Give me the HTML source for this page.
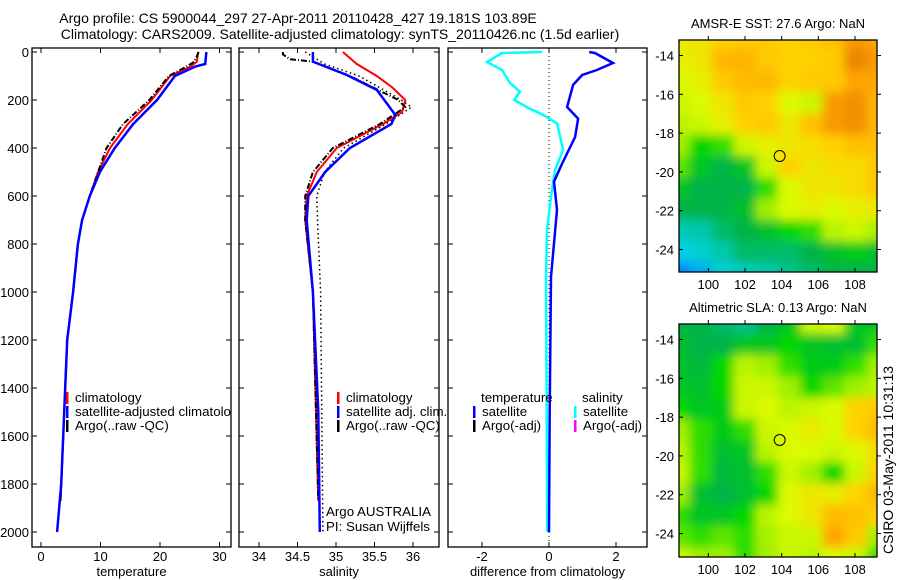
<!DOCTYPE html>
<html><head><meta charset="utf-8"><style>
body{margin:0;background:#fff}
svg{display:block;font-family:"Liberation Sans",sans-serif;font-size:14px}
.tk{font-size:13px}
.lg{font-size:13.3px}
</style></head><body>
<svg id="fig" width="900" height="580" viewBox="0 0 900 580">
<text x="298" y="23" text-anchor="middle">Argo profile: CS 5900044_297 27-Apr-2011 20110428_427 19.181S 103.89E</text>
<text x="340" y="39" text-anchor="middle">Climatology: CARS2009. Satellite-adjusted climatology: synTS_20110426.nc (1.5d earlier)</text>
<text transform="translate(893,460) rotate(-90)" text-anchor="middle">CSIRO 03-May-2011 10:31:13</text>
<defs>
<filter id="bl" x="0" y="0" width="1" height="1"><feGaussianBlur stdDeviation="5"/></filter>
<clipPath id="c1"><rect x="32" y="48" width="199" height="499"/></clipPath>
<clipPath id="c2"><rect x="239" y="48" width="200" height="499"/></clipPath>
<clipPath id="c3"><rect x="448" y="48" width="199" height="499"/></clipPath>
<clipPath id="m1"><rect x="679" y="40" width="198" height="232"/></clipPath>
<clipPath id="m2"><rect x="679" y="324" width="198" height="233"/></clipPath>
</defs>
<g id="g"></g>
</svg>
<script>
// ---- profile data ----
const tDepthBlue=[0,50,60,100,200,300,400,500,600,700,800,1000,1200,1500,1800,2000];
const tBlue=[27.8,27.6,26.0,22.5,19.5,15.5,12.4,9.9,8.2,6.9,6.2,5.4,4.4,3.9,3.4,2.7];
const tDepthRed=[0,40,60,100,200,300,400,500,600,700,800,1000,1200,1500,1870];
const tRed=[26.4,26.2,25.2,21.7,18.6,14.6,11.6,9.6,8.2,6.9,6.2,5.4,4.4,3.9,3.3];
const tDepthArgo=[0,40,60,100,200,300,400,500,600,700,800,1000,1200,1500,1870];
const tArgo=[26.5,25.8,24.5,21.5,18.2,13.8,11.0,9.6,8.2,6.9,6.2,5.4,4.4,3.9,3.3];
const sDepthBlue=[0,40,96,158,262,300,400,500,600,700,1000,1500,2000];
const sBlue=[34.70,34.70,35.14,35.53,35.77,35.72,35.18,34.86,34.64,34.62,34.70,34.77,34.79];
const sDepthRed=[0,50,100,150,200,250,300,400,500,600,700,1000,1500,1870];
const sRed=[35.09,35.27,35.53,35.74,35.90,35.86,35.61,35.01,34.75,34.62,34.60,34.70,34.74,34.77];
const sDepthArgo=[0,10,30,40,100,200,230,300,400,500,600,700,1000,1870];
const sArgo=[34.31,34.31,34.40,34.70,35.18,35.81,35.90,35.57,34.96,34.70,34.60,34.60,34.70,34.77];
const sDepthDot=[0,50,100,200,230,300,400,500,600,700,1000,2000];
const sDot=[34.60,34.85,35.30,35.85,35.98,35.65,35.10,34.85,34.75,34.76,34.80,34.83];
const dDepthCyan=[0,4,42,75,130,165,200,233,262,297,408,492,603,742,937,1500,2000];
const dCyan=[-0.2,-1.4,-1.85,-1.4,-1.16,-0.87,-1.04,-0.62,-0.18,0.24,0.42,0.18,0.06,-0.06,-0.09,-0.07,-0.05];
const dDepthBlue=[0,4,46,75,96,137,229,278,354,465,540,658,937,1500,2000];
const dBlue=[1.2,1.37,1.91,1.43,0.99,0.72,0.54,0.87,0.78,0.39,0.15,0.24,0.06,0.02,0.0];
const depthTicks=[0,200,400,600,800,1000,1200,1400,1600,1800,2000];
const tTicks=[0,10,20,30];
const sTicks=[34,34.5,35,35.5,36];
const dTicks=[-2,0,2];
// ---- map data (value 0..1 on jet-like scale), rows lat -13.7..-24.7, cols lon 98.9..108.9 ----
const sstGrid=[
[0.65,0.66,0.70,0.72,0.72,0.70,0.72,0.74,0.82,0.80],
[0.64,0.66,0.76,0.77,0.72,0.70,0.70,0.72,0.86,0.82],
[0.62,0.64,0.72,0.75,0.76,0.70,0.72,0.72,0.80,0.80],
[0.60,0.62,0.66,0.72,0.70,0.62,0.60,0.82,0.84,0.76],
[0.58,0.60,0.64,0.70,0.72,0.66,0.74,0.82,0.84,0.76],
[0.55,0.48,0.50,0.60,0.64,0.66,0.68,0.70,0.74,0.74],
[0.52,0.45,0.42,0.45,0.60,0.70,0.66,0.68,0.68,0.72],
[0.45,0.42,0.42,0.42,0.50,0.62,0.66,0.66,0.68,0.72],
[0.42,0.42,0.42,0.44,0.55,0.62,0.64,0.62,0.64,0.66],
[0.35,0.36,0.40,0.42,0.44,0.48,0.50,0.58,0.60,0.56],
[0.30,0.32,0.36,0.40,0.40,0.40,0.42,0.44,0.46,0.44],
[0.22,0.26,0.32,0.34,0.36,0.38,0.40,0.42,0.42,0.42]];
const slaGrid=[
[0.42,0.42,0.40,0.38,0.42,0.45,0.60,0.62,0.45,0.45],
[0.44,0.42,0.42,0.45,0.45,0.48,0.45,0.44,0.44,0.50],
[0.44,0.43,0.48,0.58,0.55,0.50,0.46,0.46,0.50,0.55],
[0.45,0.44,0.48,0.60,0.60,0.55,0.48,0.52,0.55,0.58],
[0.48,0.45,0.46,0.60,0.62,0.58,0.60,0.62,0.70,0.72],
[0.55,0.50,0.46,0.50,0.60,0.62,0.65,0.62,0.70,0.75],
[0.58,0.50,0.44,0.45,0.58,0.62,0.62,0.60,0.62,0.68],
[0.60,0.50,0.43,0.44,0.50,0.60,0.55,0.48,0.60,0.70],
[0.55,0.44,0.42,0.44,0.48,0.62,0.66,0.65,0.70,0.76],
[0.50,0.45,0.45,0.48,0.58,0.62,0.66,0.75,0.74,0.70],
[0.52,0.50,0.52,0.50,0.56,0.60,0.60,0.80,0.72,0.55],
[0.60,0.55,0.55,0.50,0.55,0.60,0.58,0.62,0.60,0.50]];
const latTicks=[-14,-16,-18,-20,-22,-24];
const lonTicks=[100,102,104,106,108];
const argoLon=103.89, argoLat=-19.18;

const NS='http://www.w3.org/2000/svg';
const G=document.getElementById('g');
function mk(tag,at,parent){const e=document.createElementNS(NS,tag);for(const k in at)e.setAttribute(k,at[k]);(parent||G).appendChild(e);return e;}
const yD=d=>52+d*0.24;
const xT=v=>41+(v)*5.95;
const xS=v=>259+(v-34)*77;
const xDf=v=>549+v*33.5;

function panel(x0,x1,xf,ticks,fmt,title,name,showY){
  const r=mk('rect',{x:x0,y:48,width:x1-x0,height:499,fill:'none',stroke:'#000','stroke-width':1.3});
  
  
  depthTicks.forEach(d=>{
    mk('line',{x1:x0,x2:x0+5,y1:yD(d),y2:yD(d),stroke:'#000'});
    mk('line',{x1:x1,x2:x1-5,y1:yD(d),y2:yD(d),stroke:'#000'});
    if(showY){const t=mk('text',{x:x0-3,y:yD(d)+5,'text-anchor':'end','class':'tk'});t.textContent=d;
      
      }
  });
  ticks.forEach(v=>{
    const x=xf(v);
    mk('line',{x1:x,x2:x,y1:48,y2:53,stroke:'#000'});
    mk('line',{x1:x,x2:x,y1:547,y2:542,stroke:'#000'});
    const t=mk('text',{x:x,y:561,'text-anchor':'middle','class':'tk'});t.textContent=fmt(v);
    
    
  });
  const tt=mk('text',{x:(x0+x1)/2,y:576,'text-anchor':'middle','class':'tk'});tt.textContent=title;
  
  
}
function line(depths,vals,xf,color,w,dash,clip,name){
  const p=depths.map((d,i)=>xf(vals[i]).toFixed(1)+','+yD(d).toFixed(1)).join(' ');
  const a={points:p,fill:'none',stroke:color,'stroke-width':w,'clip-path':'url(#'+clip+')'};
  if(dash)a['stroke-dasharray']=dash;
  const e=mk('polyline',a);
  
  
}
panel(32,231,xT,tTicks,v=>v,'temperature','temperature-panel',true);
panel(239,439,xS,sTicks,v=>v,'salinity','salinity-panel',false);
panel(448,647,xDf,dTicks,v=>v,'difference from climatology','difference-panel',false);

line(tDepthRed,tRed,xT,'#f00',2,null,'c1','temp-climatology-line');
line(tDepthArgo,tArgo,xT,'#000',2,'6,2,1,2','c1','temp-argo-line');
line(tDepthBlue,tBlue,xT,'#00f',2.5,null,'c1','temp-satellite-line');
line(sDepthDot,sDot,xS,'#000',1.5,'1.5,3','c2','sal-dotted-line');
line(sDepthRed,sRed,xS,'#f00',2,null,'c2','sal-climatology-line');
line(sDepthArgo,sArgo,xS,'#000',2,'6,2,1,2','c2','sal-argo-line');
line(sDepthBlue,sBlue,xS,'#00f',2.5,null,'c2','sal-satellite-line');
mk('line',{x1:xDf(0),x2:xDf(0),y1:52,y2:547,stroke:'#000','stroke-dasharray':'1,3'});
line(dDepthCyan,dCyan,xDf,'#0ff',2.5,null,'c3','diff-salinity-satellite-line');
line(dDepthBlue,dBlue,xDf,'#00f',2.5,null,'c3','diff-temp-satellite-line');

function legend(x,y,color,label,name,clip){
  mk('rect',{x:x,y:y-10,width:2.5,height:12,fill:color});
  const t=mk('text',{x:x+9,y:y,'class':'lg'});t.textContent=label;
  if(clip)t.setAttribute('clip-path','url(#'+clip+')');
  
  
}
legend(66,402,'#f00','climatology','legend-climatology','c1');
legend(66,416,'#00f','satellite-adjusted climatology','legend-satellite-adjusted','c1');
legend(66,430,'#000','Argo(..raw -QC)','legend-argo-raw','c1');
legend(337,402,'#f00','climatology','legend-sal-climatology');
legend(337,416,'#00f','satellite adj. clim.','legend-sal-satellite');
legend(337,430,'#000','Argo(..raw -QC)','legend-sal-argo');
[['temperature',481],['salinity',582]].forEach(([s,x])=>{const t=mk('text',{x:x,y:402,'class':'lg'});t.textContent=s;
  
  });
legend(473,416,'#00f','satellite','legend-diff-temp-satellite');
legend(473,430,'#000','Argo(-adj)','legend-diff-temp-argo');
legend(574,416,'#0ff','satellite','legend-diff-sal-satellite');
legend(574,430,'#f0f','Argo(-adj)','legend-diff-sal-argo');
[['Argo AUSTRALIA',516],['PI: Susan Wijffels',531]].forEach(([s,y])=>{const t=mk('text',{x:326,y:y,'class':'lg'});t.textContent=s;
  
  });

// ---- maps ----
const stops=[[0.2,[0,110,255]],[0.3,[0,210,230]],[0.36,[0,200,170]],[0.42,[0,180,70]],[0.48,[0,215,0]],[0.55,[160,240,0]],[0.62,[220,250,0]],[0.7,[255,210,0]],[0.8,[255,165,0]],[0.9,[225,110,0]]];
function cmap(v){
  if(v<=stops[0][0])return 'rgb('+stops[0][1]+')';
  for(let i=1;i<stops.length;i++){if(v<=stops[i][0]){const [a,ca]=stops[i-1],[b,cb]=stops[i];const f=(v-a)/(b-a);
    return 'rgb('+ca.map((c,k)=>Math.round(c+(cb[k]-c)*f)).join(',')+')';}}
  return 'rgb('+stops[stops.length-1][1]+')';
}
function map(top,bottom,grid,clip,title,name){
  const L=679,R=877,lon0=98.4,lon1=109.2,lat0=-13.2;
  const xL=lo=>L+(lo-lon0)*(R-L)/(lon1-lon0);
  const yL=la=>top+(lat0-la)*19.4;
  const g=mk('g',{'clip-path':'url(#'+clip+')'});
  const gb=mk('g',{filter:'url(#bl)'},g);
  mk('rect',{x:L,y:top,width:R-L,height:bottom-top,fill:cmap(grid[5][5])},gb);
  const n=grid[0].length;
  grid.forEach((row,i)=>row.forEach((v,j)=>{
    const x=L-12+j*(R-L+24)/n, w=(R-L+24)/n+1;
    const y=top-12+i*(bottom-top+24)/grid.length, h=(bottom-top+24)/grid.length+1;
    const c=mk('rect',{x:x,y:y,width:w,height:h,fill:cmap(v)},gb);
    
    
  }));
  const f=mk('rect',{x:L,y:top,width:R-L,height:bottom-top,fill:'none',stroke:'#000','stroke-width':1.3});
  
  
  latTicks.forEach(la=>{const y=yL(la);
    mk('line',{x1:L,x2:L+4,y1:y,y2:y,stroke:'#000'});mk('line',{x1:R,x2:R+4,y1:y,y2:y,stroke:'#000'});
    const t=mk('text',{x:L-5,y:y+5,'text-anchor':'end','class':'tk'});t.textContent=la;
    
    });
  lonTicks.forEach(lo=>{const x=xL(lo);
    mk('line',{x1:x,x2:x,y1:top,y2:top-4,stroke:'#000'});mk('line',{x1:x,x2:x,y1:bottom,y2:bottom-4,stroke:'#000'});
    const t=mk('text',{x:x,y:bottom+17,'text-anchor':'middle','class':'tk'});t.textContent=lo;
    
    });
  const c=mk('circle',{cx:xL(argoLon),cy:yL(argoLat),r:5.5,fill:'none',stroke:'#000','stroke-width':1});
  
  
  const t=mk('text',{x:(L+R)/2,y:top-12,'text-anchor':'middle','class':'tk'});t.textContent=title;
  
  
}
map(40,272,sstGrid,'m1','AMSR-E SST: 27.6 Argo: NaN','sst-map');
map(324,557,slaGrid,'m2','Altimetric SLA: 0.13 Argo: NaN','sla-map');
</script>
</body></html>
